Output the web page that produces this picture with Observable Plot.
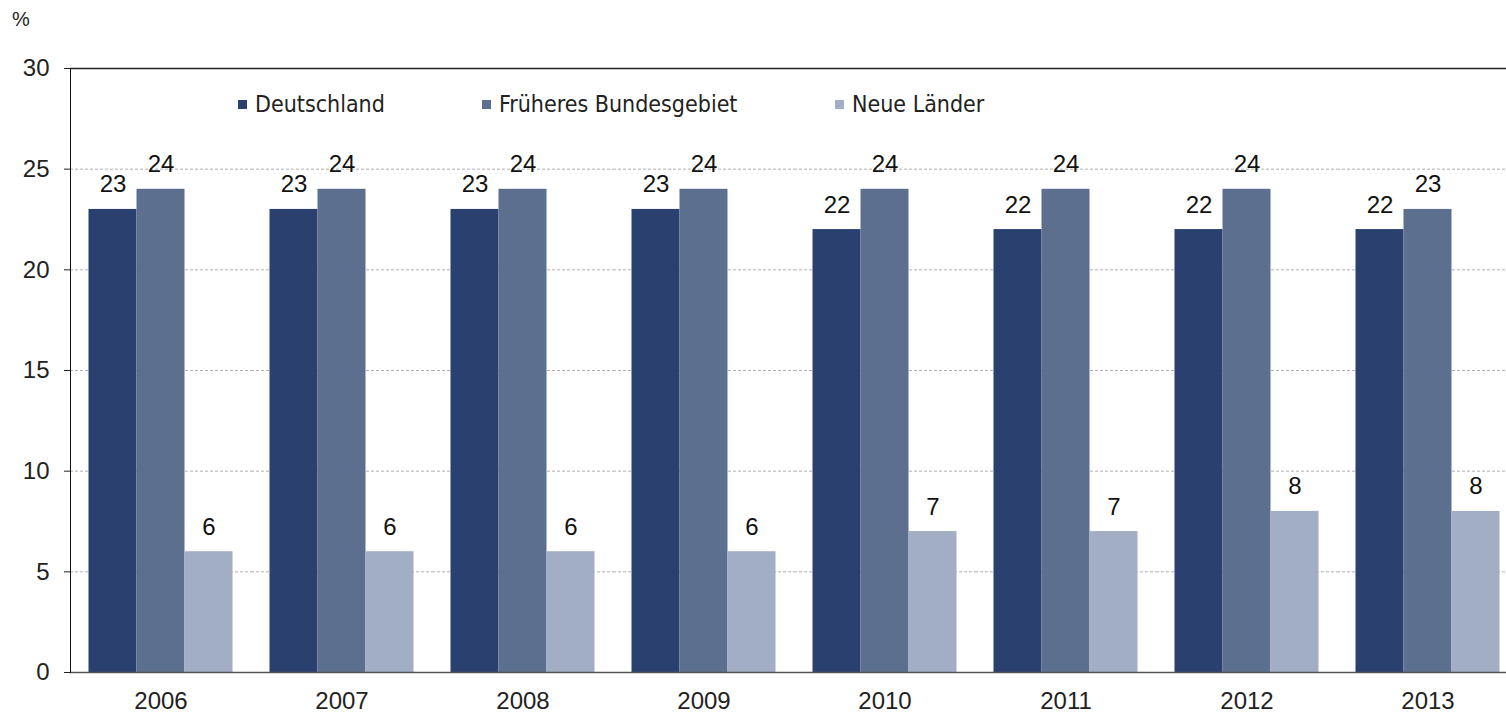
<!DOCTYPE html>
<html>
<head>
<meta charset="utf-8">
<script src="https://cdn.jsdelivr.net/npm/d3@7"></script>
<script src="https://cdn.jsdelivr.net/npm/@observablehq/plot@0.6"></script>
<style>
  html, body { margin: 0; padding: 0; background: #fff; overflow: hidden; }
  #wrap { position: relative; width: 1506px; height: 714px; overflow: hidden; }
  #chart svg { max-width: none !important; display: block; }
  #unit { position: absolute; left: 12px; top: 8px; font: 20px "Liberation Sans", Arial, sans-serif; color: #222; }
  .leg { position: absolute; top: 91px; display: flex; align-items: center; font: 23px "Liberation Sans Narrow", "Arial Narrow", "DejaVu Sans Condensed", sans-serif; color: #222; white-space: nowrap; }
  .leg span.sw { display: inline-block; width: 9px; height: 9px; margin-right: 8px; }
</style>
</head>
<body>
<div id="wrap">
  <div id="chart"></div>
  <div id="unit">%</div>
  <div id="legend"></div>
</div>
<script>
const years = ["2006", "2007", "2008", "2009", "2010", "2011", "2012", "2013"];
const seriesNames = ["Deutschland", "Früheres Bundesgebiet", "Neue Länder"];
const deutschland = [23, 23, 23, 23, 22, 22, 22, 22];
const fruehereBundesgebiet = [24, 24, 24, 24, 24, 24, 24, 23];
const neueLaender = [6, 6, 6, 6, 7, 7, 8, 8];
const seriesColors = ["#2a4170", "#5c6f8f", "#a2aec4"];
const yTicks = [0, 5, 10, 15, 20, 25, 30];
const gridTicks = [5, 10, 15, 20, 25];

const seriesValues = [deutschland, fruehereBundesgebiet, neueLaender];
const data = years.flatMap((year, i) =>
  seriesNames.map((s, j) => ({year, series: s, value: seriesValues[j][i]}))
);

const W = 1519, H = 714, ML = 68.5, MR = 0, MT = 68, MB = 42;
const groupStep = (W - ML - MR) / years.length;

const chart = Plot.plot({
  width: W,
  height: H,
  marginLeft: ML,
  marginRight: MR,
  marginTop: MT,
  marginBottom: MB,
  style: {fontFamily: "'Liberation Sans', Arial, sans-serif", fontSize: "24px", color: "#222", background: "#fff", overflow: "visible", maxWidth: "none"},
  fx: {domain: years, padding: 0, label: null, axis: "bottom", tickSize: 0, tickPadding: 19},
  x: {domain: seriesNames, paddingInner: 0, paddingOuter: 0.385, axis: null},
  y: {domain: [0, 30], ticks: yTicks, axis: "left", tickSize: 6, tickPadding: 15, label: null},
  color: {domain: seriesNames, range: seriesColors},
  marks: [
    Plot.gridY(gridTicks, {stroke: "#b0b0b0", strokeOpacity: 1, strokeDasharray: "3,2"}),
    Plot.ruleY([30], {stroke: "#222", strokeWidth: 1.5}),
    Plot.barY(data, {fx: "year", x: "series", y: "value", fill: "series"}),
    Plot.text(data, {fx: "year", x: "series", y: "value", text: d => String(d.value), lineAnchor: "bottom", dy: -17, fontSize: 24, fill: "#111"}),
    Plot.ruleY([0], {stroke: "#555", strokeWidth: 1.5}),
    Plot.ruleX(years, {fx: d => d, y1: 0, y2: 0, insetBottom: -7, dx: -groupStep / 2, stroke: "#222"}),
    Plot.frame({anchor: "left", facetAnchor: "left", stroke: "#111"})
  ]
});
document.getElementById("chart").appendChild(chart);

const legendLefts = [238, 482, 835];
const legend = document.getElementById("legend");
seriesNames.forEach((name, i) => {
  const item = document.createElement("div");
  item.className = "leg";
  item.style.left = legendLefts[i] + "px";
  item.innerHTML = `<span class="sw" style="background:${seriesColors[i]}"></span><span>${name}</span>`;
  legend.appendChild(item);
});
</script>
</body>
</html>
